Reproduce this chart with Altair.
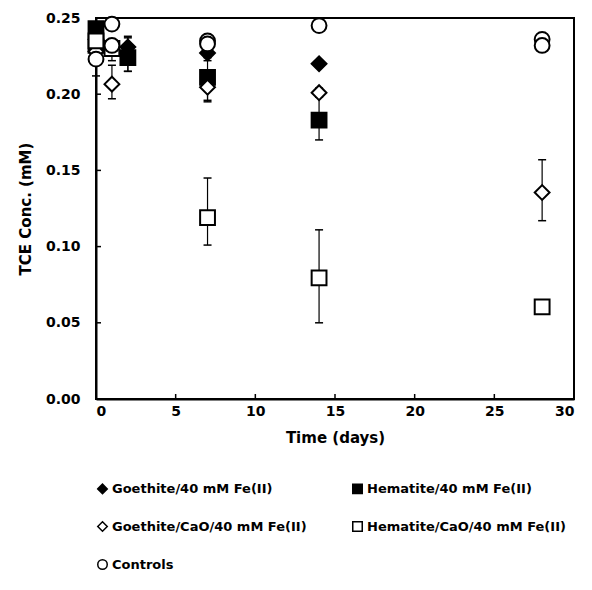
import altair as alt
import pandas as pd

series = ["Goethite/40 mM Fe(II)", "Hematite/40 mM Fe(II)",
          "Goethite/CaO/40 mM Fe(II)", "Hematite/CaO/40 mM Fe(II)", "Controls"]
shapes = ["diamond", "square", "diamond", "square", "circle"]
fills = ["black", "black", "white", "white", "white"]
strokes = ["black", "black", "black", "black", "black"]

# Goethite/40 mM Fe(II)
goe_t = [0, 2, 7, 14]
goe_v = [0.236, 0.231, 0.227, 0.220]
goe_lo = [None, 0.215, 0.224, None]
goe_hi = [None, 0.238, 0.230, None]
# Hematite/40 mM Fe(II)
hem_t = [0, 0, 2, 7, 14]
hem_v = [0.243, 0.232, 0.224, 0.211, 0.183]
hem_lo = [None, None, 0.215, 0.196, 0.170]
hem_hi = [None, None, 0.237, 0.222, 0.198]
# Goethite/CaO/40 mM Fe(II)
gcao_t = [0, 1, 7, 14, 28]
gcao_v = [0.228, 0.2066, 0.2046, 0.201, 0.1355]
gcao_lo = [0.212, 0.197, 0.195, 0.198, 0.117]
gcao_hi = [0.238, 0.219, 0.212, 0.204, 0.157]
# Hematite/CaO/40 mM Fe(II)
hcao_t = [0, 1, 7, 14, 28]
hcao_v = [0.235, 0.230, 0.119, 0.0795, 0.0605]
hcao_lo = [None, 0.222, 0.101, 0.050, 0.058]
hcao_hi = [None, 0.236, 0.145, 0.111, 0.063]
# Controls
ctl_t = [0, 1, 1, 7, 7, 14, 28, 28]
ctl_v = [0.223, 0.246, 0.232, 0.235, 0.233, 0.245, 0.236, 0.232]
ctl_lo = [None] * 8
ctl_hi = [None] * 8

x_ticks = [0, 5, 10, 15, 20, 25, 30]
y_ticks = [0.00, 0.05, 0.10, 0.15, 0.20, 0.25]

rows = []
for name, ts, vs, los, his in [
    (series[0], goe_t, goe_v, goe_lo, goe_hi),
    (series[1], hem_t, hem_v, hem_lo, hem_hi),
    (series[2], gcao_t, gcao_v, gcao_lo, gcao_hi),
    (series[3], hcao_t, hcao_v, hcao_lo, hcao_hi),
    (series[4], ctl_t, ctl_v, ctl_lo, ctl_hi),
]:
    for t, v, lo, hi in zip(ts, vs, los, his):
        rows.append({"s": name, "t": t, "v": v, "lo": lo, "hi": hi,
                     "o": series.index(name)})
df = pd.DataFrame(rows)
err = df.dropna(subset=["lo"])

FONT = "DejaVu Sans"
xs = alt.Scale(domain=[0, 30], nice=False)
ys = alt.Scale(domain=[0, 0.25], nice=False)

xaxis = alt.Axis(values=x_ticks, title="Time (days)", ticks=False, grid=False,
                 labelPadding=5, titlePadding=12, labelFontSize=14,
                 labelFontWeight="bold", titleFontSize=15, titleFontWeight="bold",
                 labelFont=FONT, titleFont=FONT, domainColor="black",
                 domainWidth=2, labelColor="black", titleColor="black")
yaxis = alt.Axis(values=y_ticks, format=".2f", title="TCE Conc. (mM)",
                 ticks=False, grid=False, labelPadding=16, titlePadding=12,
                 labelFontSize=14, labelFontWeight="bold", titleFontSize=15,
                 titleFontWeight="bold", labelFont=FONT, titleFont=FONT,
                 domainColor="black", domainWidth=2, labelColor="black",
                 titleColor="black")

rules = alt.Chart(err).mark_rule(color="black", strokeWidth=1.2).encode(
    x=alt.X("t:Q", scale=xs, axis=xaxis),
    y=alt.Y("lo:Q", scale=ys, axis=yaxis),
    y2="hi:Q",
)
cap_lo = alt.Chart(err).mark_tick(orient="horizontal", size=8, thickness=1.5,
                                  color="black", opacity=1).encode(
    x=alt.X("t:Q", scale=xs), y=alt.Y("lo:Q", scale=ys))
cap_hi = alt.Chart(err).mark_tick(orient="horizontal", size=8, thickness=1.5,
                                  color="black", opacity=1).encode(
    x=alt.X("t:Q", scale=xs), y=alt.Y("hi:Q", scale=ys))


def make_legend():
    return alt.Legend(orient="bottom", offset=37, columns=2, columnPadding=42,
                      rowPadding=21, labelFont=FONT, labelFontSize=13,
                      labelFontWeight="bold", labelColor="black",
                      symbolSize=90, symbolStrokeWidth=1.5,
                      symbolStrokeColor="black", labelOffset=3,
                      labelLimit=400)


points = alt.Chart(df).mark_point(filled=True, strokeWidth=2,
                                  opacity=1, size=220).encode(
    x=alt.X("t:Q", scale=xs),
    y=alt.Y("v:Q", scale=ys),
    shape=alt.Shape("s:N", scale=alt.Scale(domain=series, range=shapes),
                    title=None, legend=make_legend()),
    fill=alt.Fill("s:N", scale=alt.Scale(domain=series, range=fills),
                  title=None, legend=make_legend()),
    stroke=alt.Stroke("s:N", scale=alt.Scale(domain=series, range=strokes),
                      title=None, legend=make_legend()),
    order=alt.Order("o:Q"),
)

ytick_df = pd.DataFrame({"v": y_ticks[1:-1]})
xtick_df = pd.DataFrame({"t": x_ticks[1:-1]})
yt = alt.Chart(ytick_df).mark_rule(color="black", strokeWidth=1.5).encode(
    y=alt.Y("v:Q", scale=ys), x=alt.value(0), x2=alt.value(5))
xt = alt.Chart(xtick_df).mark_rule(color="black", strokeWidth=1.5).encode(
    x=alt.X("t:Q", scale=xs), y=alt.value(381), y2=alt.value(376))

chart = alt.layer(rules, cap_lo, cap_hi, yt, xt, points).properties(
    width=478, height=381,
    padding={"left": 10, "top": 3, "right": 5, "bottom": 5},
    background="white",
).configure_view(stroke="black", strokeWidth=2)

chart.save("out.html", embed_options={"renderer": "svg", "actions": False})
